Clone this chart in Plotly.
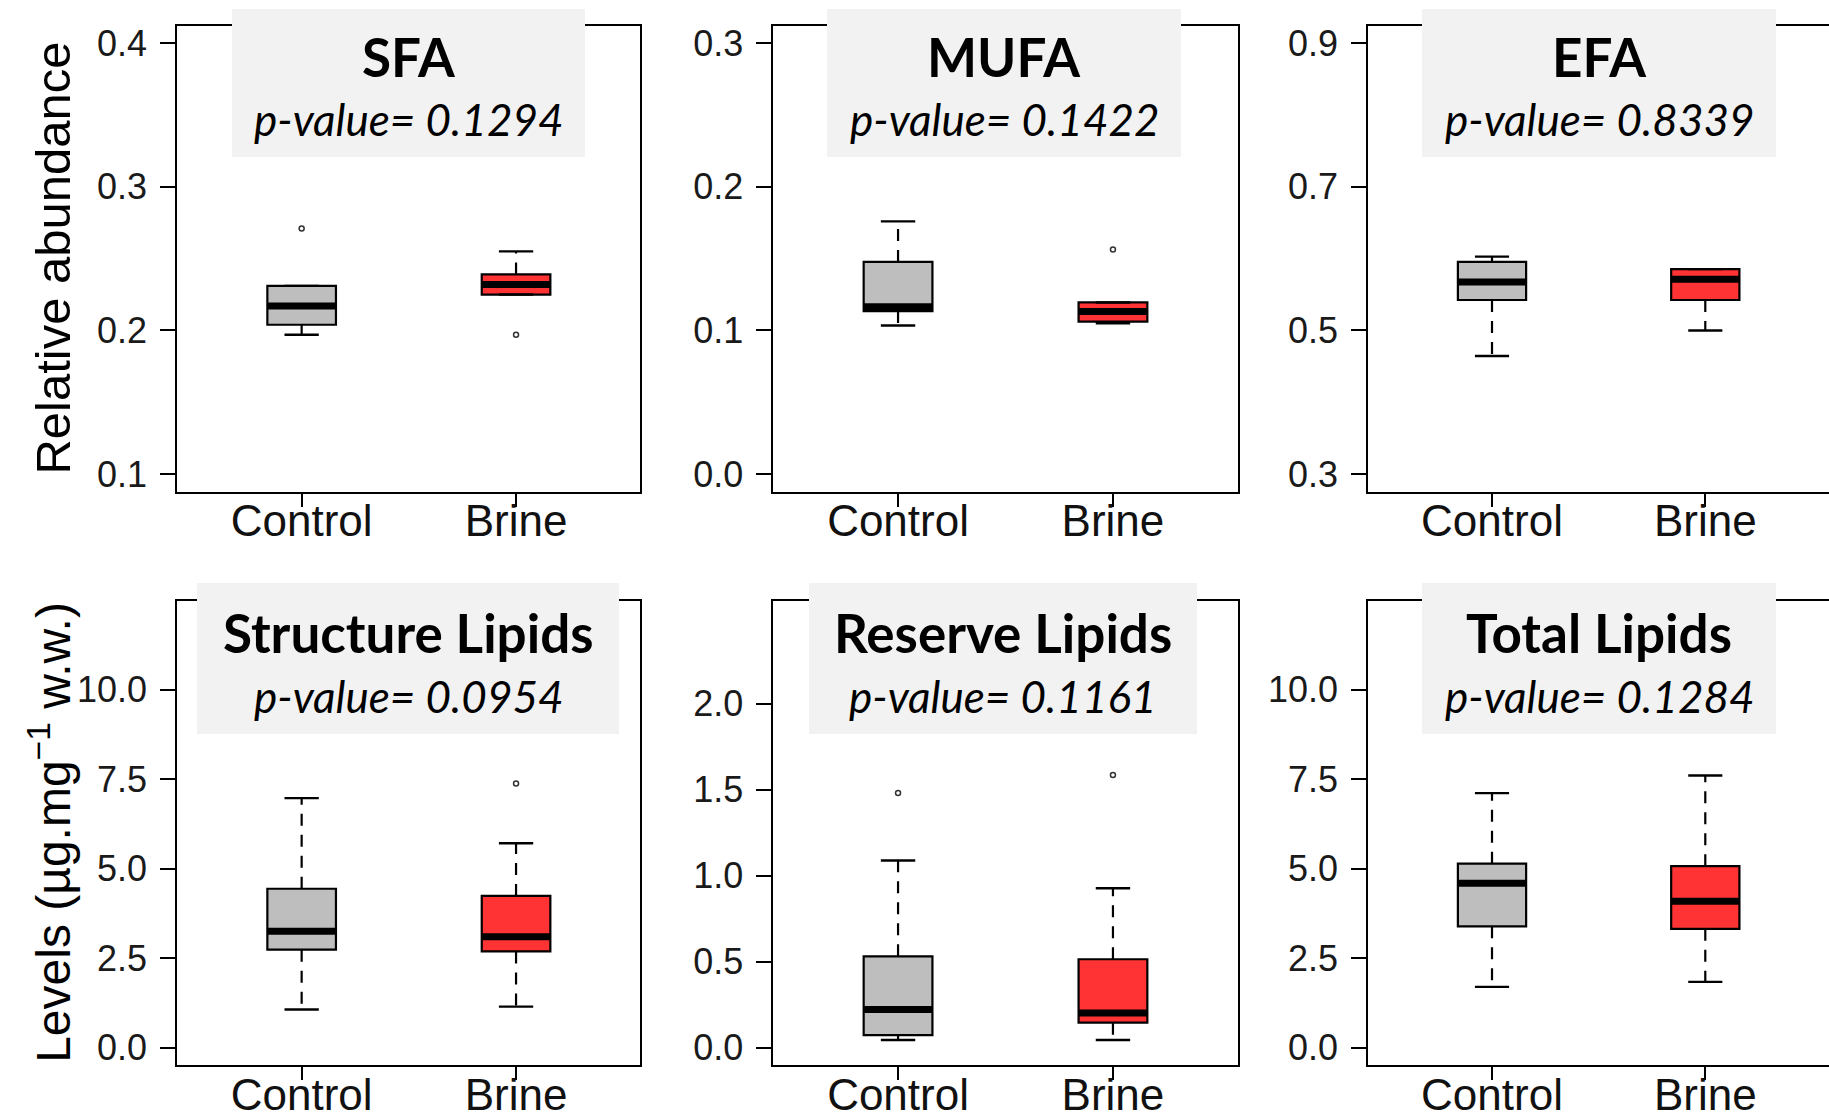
import plotly.graph_objects as go

# ---------------------------------------------------------------- data
categories = ["Control", "Brine"]
panel_names = ["SFA", "MUFA", "EFA", "Structure Lipids", "Reserve Lipids", "Total Lipids"]
p_values = ["0.1294", "0.1422", "0.8339", "0.0954", "0.1161", "0.1284"]

# box statistics per group: (lower whisker, Q1, median, Q3, upper whisker)
sfa_stats = [(0.197, 0.204, 0.217, 0.231, 0.231), (0.225, 0.225, 0.232, 0.239, 0.255)]
mufa_stats = [(0.1035, 0.1135, 0.1165, 0.1477, 0.1759), (0.105, 0.1062, 0.1132, 0.1195, 0.1195)]
efa_stats = [(0.4646, 0.5424, 0.5674, 0.5954, 0.6028), (0.500, 0.5424, 0.5714, 0.5854, 0.5854)]
structure_stats = [(1.07, 2.74, 3.25, 4.44, 6.97), (1.15, 2.69, 3.10, 4.24, 5.71)]
reserve_stats = [(0.045, 0.074, 0.223, 0.532, 1.089), (0.045, 0.146, 0.202, 0.515, 0.928)]
total_stats = [(1.70, 3.39, 4.59, 5.14, 7.11), (1.84, 3.32, 4.09, 5.07, 7.60)]

# outlying points per group
sfa_outliers = [[0.271], [0.197]]
mufa_outliers = [[], [0.1564]]
efa_outliers = [[], []]
structure_outliers = [[], [7.38]]
reserve_outliers = [[1.482], [1.586]]
total_outliers = [[], []]

# y limits, tick spacing and highest labelled tick of each panel
y_limits = [(0.1, 0.4), (0.0, 0.3), (0.3, 0.9), (0.0, 12.0), (0.0, 2.5), (0.0, 12.0)]
y_steps = [0.1, 0.1, 0.2, 2.5, 0.5, 2.5]
y_tick_max = [0.4, 0.3, 0.9, 10.0, 2.0, 10.0]

all_stats = [sfa_stats, mufa_stats, efa_stats, structure_stats, reserve_stats, total_stats]
all_outliers = [sfa_outliers, mufa_outliers, efa_outliers,
                structure_outliers, reserve_outliers, total_outliers]

# ---------------------------------------------------------------- layout geometry
W, H = 1829, 1116
fill_colors = ["#BEBEBE", "#FF3333"]
box_width = 0.32
cap_width = box_width / 2

col_px = [(177.3, 640.4), (773.4, 1237.6), (1368.3, 1829.0)]
row_px = [(25.7, 491.5), (600.7, 1065.0)]
label_boxes_x = [(232, 585), (827, 1181), (1422, 1776),
                 (197, 619), (809, 1197), (1422, 1776)]
label_boxes_y = [(9, 157), (583, 734)]
title_y = [(57, 119), (632, 696)]


def px(x):
    return x / W


def py(y):
    return 1 - y / H


TICK_FONT = "Liberation Sans, Arial, sans-serif"
LABEL_FONT = "Lato, 'Open Sans', sans-serif"

fig = go.Figure()
shapes = []
annotations = []

for i in range(6):
    r, c = divmod(i, 3)
    ax = "" if i == 0 else str(i + 1)
    xref, yref = "x" + ax, "y" + ax
    stats = all_stats[i]
    outs = all_outliers[i]

    for g, (lw, q1, med, q3, uw) in enumerate(stats):
        xpos = g + 1
        # box body
        fig.add_trace(go.Box(
            x=[xpos], q1=[q1], median=[med], q3=[q3],
            lowerfence=[q1], upperfence=[q3],
            width=box_width, whiskerwidth=0,
            fillcolor=fill_colors[g],
            line=dict(color="black", width=2.2),
            boxpoints=False, hoverinfo="skip",
            xaxis=xref, yaxis=yref, showlegend=False,
        ))
        # dashed whiskers
        for a, b in ((q3, uw), (q1, lw)):
            fig.add_trace(go.Scatter(
                x=[xpos, xpos], y=[a, b], mode="lines",
                line=dict(color="black", width=2.2, dash="12px,9px"),
                xaxis=xref, yaxis=yref, showlegend=False, hoverinfo="skip",
            ))
        # whisker caps
        for v in (lw, uw):
            fig.add_trace(go.Scatter(
                x=[xpos - cap_width / 2, xpos + cap_width / 2], y=[v, v], mode="lines",
                line=dict(color="black", width=2.4),
                xaxis=xref, yaxis=yref, showlegend=False, hoverinfo="skip",
            ))
        # thick median bar
        fig.add_trace(go.Scatter(
            x=[xpos - box_width / 2, xpos + box_width / 2], y=[med, med], mode="lines",
            line=dict(color="black", width=7),
            xaxis=xref, yaxis=yref, showlegend=False, hoverinfo="skip",
        ))
        # outliers
        if outs[g]:
            fig.add_trace(go.Scatter(
                x=[xpos] * len(outs[g]), y=outs[g], mode="markers",
                marker=dict(symbol="circle-open", size=5, color="#333333",
                            line=dict(width=1.5)),
                xaxis=xref, yaxis=yref, showlegend=False, hoverinfo="skip",
            ))

    lo, hi = y_limits[i]
    pad = 0.04 * (hi - lo)
    x0, x1 = col_px[c]
    y0, y1 = row_px[r]
    step = y_steps[i]
    n_ticks = int(round((y_tick_max[i] - lo) / step)) + 1
    yticks = [round(lo + k * step, 6) for k in range(n_ticks)]

    common = dict(
        showline=True, linecolor="black", linewidth=2,
        ticks="outside", tickwidth=2, tickcolor="black",
        showgrid=False, zeroline=False, fixedrange=True, automargin=False,
    )
    fig.update_layout({
        "xaxis" + ax: dict(
            domain=[px(x0), px(x1)], range=[0.42, 2.58],
            tickmode="array", tickvals=[1, 2], ticktext=categories,
            tickfont=dict(family=TICK_FONT, size=44, color="#111111"),
            ticklen=13, ticklabelstandoff=-23, mirror=True,
            anchor=yref, **common,
        ),
        "yaxis" + ax: dict(
            domain=[py(y1), py(y0)], range=[lo - pad, hi + pad],
            tickmode="array", tickvals=yticks,
            ticktext=["%.1f" % v for v in yticks],
            tickfont=dict(family=TICK_FONT, size=36, color="#1a1a1a"),
            ticklen=15, ticklabelstandoff=6,
            # the right-hand column runs off the page edge, so no right border there
            mirror=(c < 2),
            anchor=xref, **common,
        ),
    })

    # grey header panel with name and p-value
    bx0, bx1 = label_boxes_x[i]
    by0, by1 = label_boxes_y[r]
    shapes.append(dict(
        type="rect", xref="paper", yref="paper",
        x0=px(bx0), x1=px(bx1), y0=py(by1), y1=py(by0),
        fillcolor="#F2F2F2", line=dict(width=0), layer="above",
    ))
    cx = px((bx0 + bx1) / 2)
    ty, pvy = title_y[r]
    annotations.append(dict(
        x=cx, y=py(ty), xref="paper", yref="paper", showarrow=False,
        text="<b>%s</b>" % panel_names[i], xanchor="center", yanchor="middle",
        font=dict(family=LABEL_FONT, size=53, color="black"),
    ))
    annotations.append(dict(
        x=cx, y=py(pvy), xref="paper", yref="paper", showarrow=False,
        text="<i>p-value= %s</i>" % p_values[i], xanchor="center", yanchor="middle",
        font=dict(family=LABEL_FONT, size=44, color="black"),
    ))

# y-axis titles for each row
annotations.append(dict(
    x=px(53), y=py((row_px[0][0] + row_px[0][1]) / 2), xref="paper", yref="paper",
    showarrow=False, text="Relative abundance", textangle=-90,
    xanchor="center", yanchor="middle",
    font=dict(family=TICK_FONT, size=49, color="black"),
))
annotations.append(dict(
    x=px(50), y=py((row_px[1][0] + row_px[1][1]) / 2), xref="paper", yref="paper",
    showarrow=False, text="Levels (µg.mg<sup>−1</sup> w.w.)", textangle=-90,
    xanchor="center", yanchor="middle",
    font=dict(family=TICK_FONT, size=48, color="black"),
))

fig.update_layout(
    width=W, height=H,
    margin=dict(l=0, r=0, t=0, b=0, autoexpand=False),
    paper_bgcolor="white", plot_bgcolor="white",
    boxmode="overlay", showlegend=False,
    shapes=shapes, annotations=annotations,
)

fig.write_html("out.html", config={"displayModeBar": False})
